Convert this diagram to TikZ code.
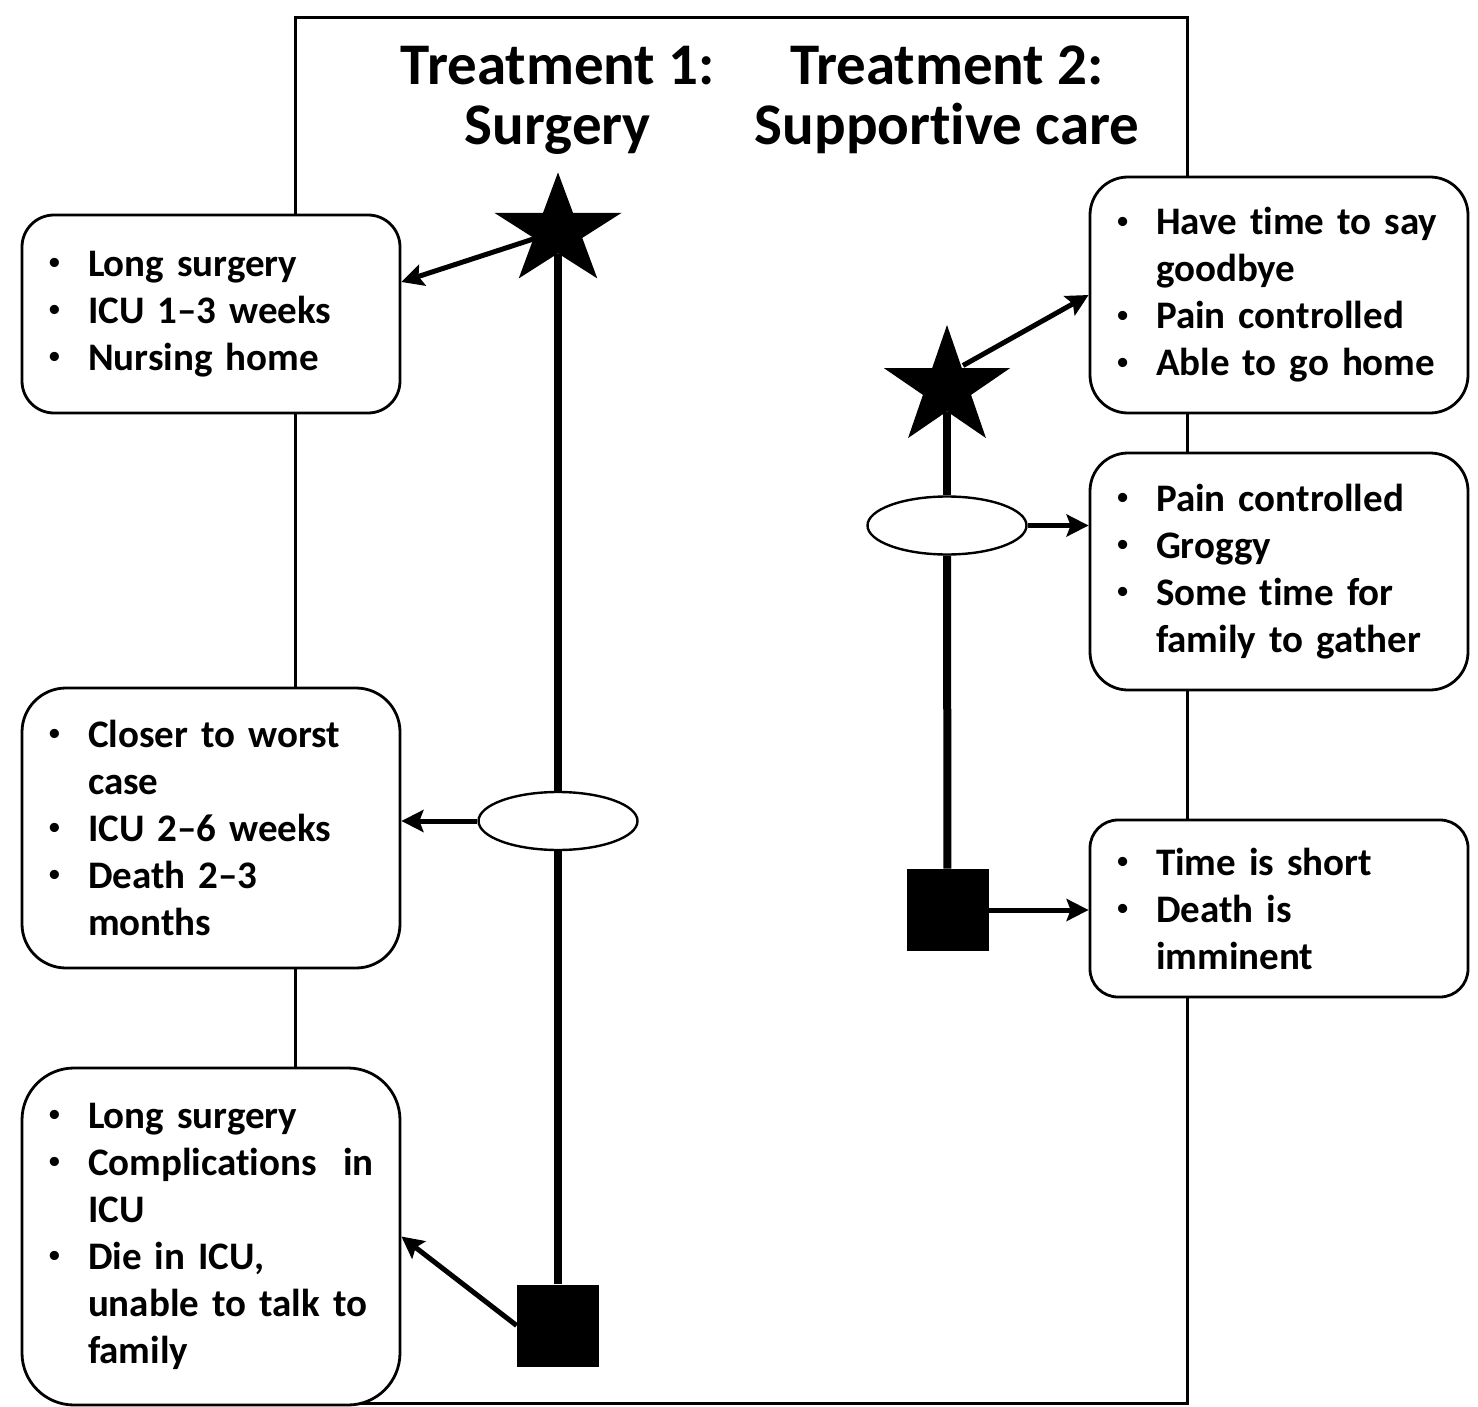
\documentclass[tikz,border=0pt]{standalone}
\usepackage{fontspec}
\setmainfont{Carlito}[Ligatures={TeX,NoCommon}]
\newfontfamily\bulletfont{Liberation Sans}
\usetikzlibrary{shapes.geometric,arrows.meta,calc}
\newcommand{\bl}{\makebox[21pt][l]{\hspace{1.5pt}\raisebox{1.3pt}{\fontsize{16pt}{16pt}\selectfont\bulletfont\textbullet}}}
\newcommand{\ct}{\hspace*{21pt}}
\begin{document}
\begin{tikzpicture}[x=0.5pt,y=-0.5pt,
  txt/.style={font=\bfseries\fontsize{19.5pt}{23.5pt}\selectfont},
  info/.style={txt, draw, line width=1.4pt, fill=white, rounded corners=#1,
    minimum width=189pt, text width=165pt, inner xsep=12pt, inner ysep=0pt, align=left},
  ttl/.style={font=\bfseries\fontsize{29.5pt}{30pt}\selectfont, anchor=base, inner sep=0pt},
  bigstar/.style={star, star points=5, star point ratio=2.618, fill=black, inner sep=0pt},
  oval/.style={ellipse, draw, line width=1.2pt, fill=white, minimum width=79.5pt, minimum height=29pt, inner sep=0pt},
  sqbox/.style={fill=black, minimum size=41pt, inner sep=0pt},
  tl/.style={line width=4pt},
  arr/.style={line width=2.5pt, -{Stealth[length=11pt,width=11pt,inset=2pt]}}]
\useasboundingbox (0,0) rectangle (1478,1407);
\node[draw, line width=1.5pt, minimum width=446pt, minimum height=692.5pt, inner sep=0pt] (frame) at (741,710.5) {};
% titles
\node[ttl] (t1a) at (558,85) {Treatment 1:};
\node[ttl] (t1b) at (558,145) {Surgery};
\node[ttl] (t2a) at (947,85) {Treatment 2:};
\node[ttl] (t2b) at (947,145) {Supportive care};
% markers
\node[bigstar, minimum size=58.6pt, xscale=1.14] (s1) at (558,231) {};
\node[bigstar, minimum size=62.5pt, xscale=1.06] (s2) at (947,387.5) {};
\node[oval] (e1) at (558,821) {};
\node[oval] (e2) at (947,525.5) {};
\node[sqbox] (q1) at (558,1325.5) {};
\node[sqbox] (q2) at (947.5,910) {};
% boxes
\node[info=16pt, minimum height=99pt] (b1) at (211,314)
  {\bl Long surgery\\ \bl ICU 1--3 weeks\\ \bl Nursing home};
\node[info=22pt, minimum height=140pt] (b2) at (211,828)
  {\bl Closer to worst\\ \ct case\\ \bl ICU 2--6 weeks\\ \bl Death 2--3\\ \ct months};
\node[info=26pt, minimum height=168.5pt] (b3) at (211,1236.5)
  {\bl Long surgery\\ \bl Complications\ \ in\\ \ct ICU\\ \bl Die in ICU,\\ \ct unable to talk to\\ \ct family};
\node[info=19pt, minimum height=118pt] (r1) at (1279,295)
  {\bl Have time to say\\ \ct goodbye\\ \bl Pain controlled\\ \bl Able to go home};
\node[info=19pt, minimum height=118.5pt] (r2) at (1279,571.5)
  {\bl Pain controlled\\ \bl Groggy\\ \bl Some time for\\ \ct family to gather};
\node[info=14pt, minimum height=88.5pt] (r3) at (1279,908.5)
  {\bl Time is short\\ \bl Death is\\ \ct imminent};
% timelines
\draw[tl] (s1) -- (e1);
\draw[tl] (e1) -- (q1);
\draw[tl] (s2) -- (e2);
\draw[tl] (e2) -- (q2);
% arrows
\draw[arr] (s1.center) -- ([yshift=16pt]b1.east);
\draw[arr] (e1.west) -- (e1.west -| b2.east);
\draw[arr] (q1.west) -- (b3.east);
\draw[arr] ($(s2.center)+(16,-22)$) -- (r1.west);
\draw[arr] (e2.east) -- (e2.east -| r2.west);
\draw[arr] (q2.east) -- (q2.east -| r3.west);
\end{tikzpicture}
\end{document}
